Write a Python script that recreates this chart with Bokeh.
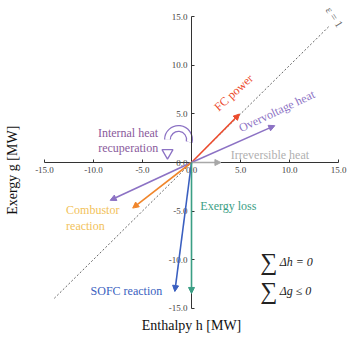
from bokeh.plotting import figure
from bokeh.models import Range1d, FixedTicker, Arrow, NormalHead, ColumnDataSource
from bokeh.core.properties import value
from bokeh.embed import file_html
from bokeh.resources import INLINE
import math

# ---- data ----
vectors = ["FC power", "Overvoltage heat", "Irreversible heat", "Internal heat recuperation",
           "Combustor reaction", "SOFC reaction", "Exergy loss"]
dh = [4.9, 8.5, 3.0, -8.3, -6.0, -1.7, 0.0]
dg = [5.0, 3.8, 0.0, -3.9, -4.7, -13.3, -13.5]
colors = ["#ec4a2c", "#8c72c4", "#a8a8a8", "#8c72c4", "#f0862c", "#3a5fc0", "#3a9e84"]

ticks = [-15, -10, -5, 0, 5, 10, 15]
tick_labels = ["-15.0", "-10.0", "-5.0", "0.0", "5.0", "10.0", "15.0"]

eps_line_h = [-14.0, 14.0]
eps_line_g = [-14.0, 14.0]

SERIF = "Liberation Serif"

p = figure(width=363, height=337, output_backend="svg", toolbar_location=None,
           x_range=Range1d(-19.49, 17.55), y_range=Range1d(-18.04, 16.70),
           min_border=0, min_border_left=0, min_border_right=0,
           min_border_top=0, min_border_bottom=0)
p.grid.visible = False
p.outline_line_color = None
p.background_fill_color = "white"
p.border_fill_color = "white"

for ax in (p.xaxis[0], p.yaxis[0]):
    ax.fixed_location = 0
    ax.bounds = (-15, 15)
    ax.ticker = FixedTicker(ticks=ticks)
    ax.major_label_overrides = {t: l for t, l in zip(ticks, tick_labels)}
    ax.minor_tick_line_color = None
    ax.major_tick_in = 3
    ax.major_tick_out = 0
    ax.axis_line_color = "#333333"
    ax.major_tick_line_color = "#333333"
    ax.major_label_text_font = SERIF
    ax.major_label_text_font_size = "9px"
    ax.major_label_text_color = "#444444"
    ax.major_label_standoff = 4

# dotted line  g = h
p.line(eps_line_h, eps_line_g, line_color="#666666", line_dash="2 2", line_width=1)
p.text([14.6], [15.0], text=["ε = 1"], angle=-1.0, text_font=value(SERIF),
       text_font_size="11px", text_color="#666666", text_align="center",
       text_baseline="middle")

# vectors
for x1, y1, c in zip(dh, dg, colors):
    p.add_layout(Arrow(x_start=0, y_start=0, x_end=x1, y_end=y1,
                       line_color=c, line_width=1.6,
                       end=NormalHead(size=6, fill_color=c, line_color=c)))

# internal heat recuperation curved arrow (hollow)
p.arc(x=[-1.33], y=[2.37], radius=11, radius_units="screen", start_angle=-0.25,
      end_angle=math.pi, line_color="#8c72c4", line_width=7)
p.arc(x=[-1.33], y=[2.37], radius=11, radius_units="screen", start_angle=-0.22,
      end_angle=math.pi + 0.02, line_color="white", line_width=4.5)
p.scatter([-2.45], [1.0], marker="inverted_triangle", size=11,
          fill_color="white", line_color="#8c72c4", line_width=1.3)

# labels
lab_src = ColumnDataSource(dict(
    x=[4.3, 8.7, 8.0, -3.4, -3.4, -12.8, -12.8, -10.3, 0.9],
    y=[7.2, 5.3, 0.75, 3.05, 1.45, -4.9, -6.5, -13.2, -4.45],
    text=["FC power", "Overvoltage heat", "Irreversible heat", "Internal heat", "recuperation",
          "Combustor", "reaction", "SOFC reaction", "Exergy loss"],
    angle=[0.74, 0.44, 0, 0, 0, 0, 0, 0, 0],
    color=["#ec4a2c", "#8c72c4", "#b0b0b0", "#8a5a9c", "#8a5a9c", "#f2c25a", "#f2c25a",
           "#3a5fc0", "#3a9e84"],
    align=["center", "center", "center", "right", "right", "left", "left", "left", "left"],
))
p.text(x="x", y="y", text="text", angle="angle", text_color="color", text_align="align",
       text_baseline="middle", text_font=value(SERIF), text_font_size="12px", source=lab_src)

# sums
p.text([7.9, 7.9], [-10.3, -13.2], text=["∑", "∑"], text_font=value(SERIF),
       text_font_size="24px", text_color="#222222", text_align="center",
       text_baseline="middle")
p.text([9.0, 9.0], [-10.3, -13.2], text=["Δh = 0", "Δg ≤ 0"], text_font=value(SERIF),
       text_font_size="12px", text_font_style="italic", text_color="#222222",
       text_align="left", text_baseline="middle")

# axis titles
p.text([0.0], [-16.8], text=["Enthalpy h [MW]"], text_font=value(SERIF),
       text_font_size="14px", text_color="#111111", text_align="center",
       text_baseline="middle")
p.text([-18.3], [-0.8], text=["Exergy g [MW]"], angle=math.pi / 2, text_font=value(SERIF),
       text_font_size="14px", text_color="#111111", text_align="center",
       text_baseline="middle")

open("out.html", "w").write(file_html(p, INLINE))
